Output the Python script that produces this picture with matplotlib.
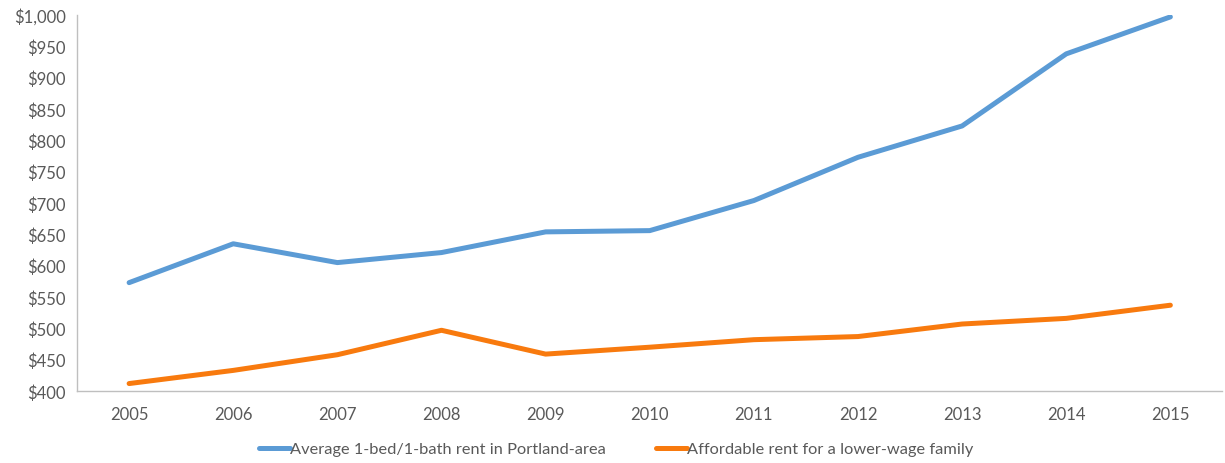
import matplotlib
matplotlib.use("Agg")
import matplotlib.pyplot as plt
from matplotlib.ticker import FuncFormatter, MultipleLocator

years = [2005, 2006, 2007, 2008, 2009, 2010, 2011, 2012, 2013, 2014, 2015]
avg_rent = [573, 635, 605, 621, 654, 656, 704, 773, 823, 938, 997]
affordable_rent = [412, 433, 458, 497, 459, 470, 482, 487, 507, 516, 537]
labels = ["Average 1-bed/1-bath rent in Portland-area",
          "Affordable rent for a lower-wage family"]

plt.rcParams['font.family'] = ['Lato', 'DejaVu Sans']
text_color = '#595959'

fig = plt.figure(figsize=(12.25, 4.64), dpi=100)
ax = fig.add_axes([0.0629, 0.155, 0.935, 0.8105])

x = list(range(len(years)))
ax.plot(x, avg_rent, color='#5B9BD5', linewidth=3.6, solid_capstyle='round',
        label=labels[0])
ax.plot(x, affordable_rent, color='#F87A0E', linewidth=3.6, solid_capstyle='round',
        label=labels[1])

ax.set_xlim(-0.5, len(years) - 0.5)
ax.set_ylim(400, 1000)
ax.yaxis.set_major_locator(MultipleLocator(50))
ax.yaxis.set_major_formatter(FuncFormatter(lambda v, p: f"${v:,.0f}"))
ax.set_xticks(x)
ax.set_xticklabels([str(y) for y in years])

for side in ['top', 'right']:
    ax.spines[side].set_visible(False)
for side in ['left', 'bottom']:
    ax.spines[side].set_color('#BFBFBF')
    ax.spines[side].set_linewidth(1.0)

ax.tick_params(axis='both', length=0, labelsize=12, colors=text_color)
ax.tick_params(axis='x', pad=11)
ax.tick_params(axis='y', pad=8)

fig.legend(loc='center', bbox_to_anchor=(0.503, 0.03), ncol=2, frameon=False,
           fontsize=11.8, handlelength=1.9, handletextpad=0.05, columnspacing=3.0,
           labelcolor=text_color)

fig.savefig("out.png", dpi=100)
